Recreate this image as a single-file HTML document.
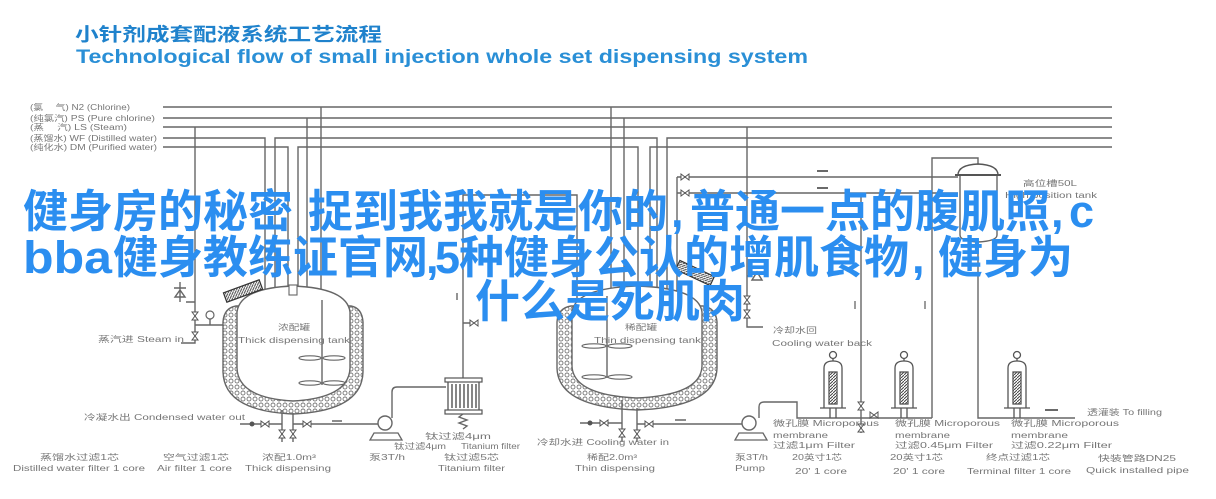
<!DOCTYPE html>
<html><head><meta charset="utf-8"><style>
html,body{margin:0;padding:0;background:#fff;}
svg{display:block;}
.l{stroke:#666;stroke-width:1.4;fill:none;}
.t{font-family:"Liberation Sans","Noto Sans CJK SC",sans-serif;fill:#767676;font-size:8px;}
.ov{font-family:"Liberation Sans","Noto Sans CJK SC",sans-serif;fill:#2b8ef0;font-size:45px;font-weight:700;}
</style></head><body>
<svg width="1216" height="499" viewBox="0 0 1216 499" xmlns="http://www.w3.org/2000/svg">
<defs>
<pattern id="jk" width="6" height="6" patternUnits="userSpaceOnUse"><rect width="6" height="6" fill="#fff"/><circle cx="3" cy="3" r="2" fill="none" stroke="#777" stroke-width="0.9"/></pattern>
<pattern id="hs" width="3" height="3" patternUnits="userSpaceOnUse"><rect width="3" height="3" fill="#fff"/><path d="M0 3L3 0" stroke="#444" stroke-width="1"/></pattern>
<g id="vh"><path d="M-4 -3L4 3V-3L-4 3Z" fill="#fff" stroke="#555" stroke-width="1"/></g>
<g id="vv"><path d="M-3 -4L3 4H-3L3 -4Z" fill="#fff" stroke="#555" stroke-width="1"/></g>
</defs>

<!-- Titles -->
<text x="75" y="41" font-family="'Liberation Sans','Noto Sans CJK SC',sans-serif" font-size="18.5" font-weight="700" fill="#1f82cc" textLength="307" lengthAdjust="spacingAndGlyphs">小针剂成套配液系统工艺流程</text>
<text x="76" y="63" font-family="'Liberation Sans',sans-serif" font-size="19" font-weight="700" fill="#2a8fd6" textLength="732" lengthAdjust="spacingAndGlyphs">Technological flow of small injection whole set dispensing system</text>

<!-- Legend -->
<text class="t" x="30" y="110" textLength="100" lengthAdjust="spacingAndGlyphs">(氯　 气) N2 (Chlorine)</text>
<text class="t" x="30" y="121" textLength="125" lengthAdjust="spacingAndGlyphs">(纯氯汽) PS  (Pure chlorine)</text>
<text class="t" x="30" y="130" textLength="97" lengthAdjust="spacingAndGlyphs">(蒸　 汽) LS  (Steam)</text>
<text class="t" x="30" y="141" textLength="127" lengthAdjust="spacingAndGlyphs">(蒸馏水) WF  (Distilled water)</text>
<text class="t" x="30" y="150" textLength="127" lengthAdjust="spacingAndGlyphs">(纯化水) DM  (Purified water)</text>

<!-- Header lines -->
<path class="l" d="M163 107H1112 M163 118H1112 M163 127H1112 M163 138H265V300 M275 298V138H657V292 M667 292V138H1112 M163 147H288V290 M298 290V147H638V287 M650 288V147H1112"/>

<!-- Left verticals -->
<path class="l" d="M195 127V343H181 M307 118V288 M321 107V292 M186 302H195"/>
<path class="l" d="M174 288H186 M180 282V302 M175 297L180 290L185 297Z"/>
<use href="#vv" x="195" y="316"/><use href="#vv" x="195" y="336"/>
<path class="l" d="M195 325H224 M210 319V325"/>
<circle cx="210" cy="315" r="4" fill="#fff" stroke="#666" stroke-width="1.2"/>

<!-- Left tank -->
<path d="M236 306Q224 308 223 322L223 372Q224 411 293 414Q362 411 363 372L363 322Q362 308 351 306Z" fill="url(#jk)" stroke="#666" stroke-width="1.4"/>
<path d="M237 312Q240 288 293 286Q347 288 350 312L350 368Q349 398 293 401Q238 398 237 368Z" fill="#fff" stroke="#666" stroke-width="1.4"/>
<path class="l" d="M322 300V385"/>
<g fill="none" stroke="#666" stroke-width="1.2">
<ellipse cx="310" cy="358" rx="11" ry="2.2"/><ellipse cx="334" cy="358" rx="11" ry="2.2"/>
<ellipse cx="310" cy="383" rx="11" ry="2.2"/><ellipse cx="334" cy="383" rx="11" ry="2.2"/>
</g>
<g transform="translate(243,291) rotate(-20)"><rect x="-19" y="-5" width="38" height="10" fill="url(#hs)" stroke="#333" stroke-width="1.2"/></g>
<rect x="289" y="285" width="8" height="10" fill="#fff" stroke="#666" stroke-width="1.1"/>
<text class="t" x="278" y="330" font-size="9" textLength="32" lengthAdjust="spacingAndGlyphs">浓配罐</text>
<text class="t" x="238" y="343" font-size="9" textLength="112" lengthAdjust="spacingAndGlyphs">Thick dispensing tank</text>
<text class="t" x="98" y="342" textLength="86" lengthAdjust="spacingAndGlyphs">蒸汽进 Steam in</text>

<!-- Left bottom -->
<path class="l" d="M240 424H282 M282 410V442 M293 413V442 M293 424H378 M332 421H342"/>
<circle cx="252" cy="424" r="2.5" fill="#555"/>
<use href="#vh" x="265" y="424"/>
<use href="#vv" x="282" y="434"/><use href="#vv" x="293" y="434"/>
<use href="#vh" x="307" y="424"/>
<text class="t" x="84" y="420" textLength="161" lengthAdjust="spacingAndGlyphs">冷凝水出 Condensed water out</text>
<path class="l" d="M392 418V392Q392 387 397 387H446"/>
<circle cx="385" cy="423" r="7" fill="#fff" stroke="#666" stroke-width="1.4"/>
<path d="M370 440H402L398 433H374Z" fill="#fff" stroke="#666" stroke-width="1.3"/>
<path class="l" d="M463 378V195H577V300"/>
<rect x="448" y="381" width="31" height="30" fill="#fff" stroke="#555" stroke-width="1.3"/>
<rect x="445" y="378" width="37" height="4" fill="#fff" stroke="#555" stroke-width="1.2"/>
<rect x="445" y="410" width="37" height="4" fill="#fff" stroke="#555" stroke-width="1.2"/>
<path d="M452 384V408M456 384V408M460 384V408M464 384V408M468 384V408M472 384V408M476 384V408" stroke="#444" stroke-width="1.3"/>
<path class="l" d="M463 414L459 417L467 420L459 423L467 426L463 429"/>
<path class="l" d="M457 293V300 M463 323H470"/>
<use href="#vh" x="474" y="323"/>
<text class="t" x="425" y="439" textLength="66" lengthAdjust="spacingAndGlyphs">钛过滤4μm</text>
<text class="t" x="394" y="449" textLength="52" lengthAdjust="spacingAndGlyphs">钛过滤4μm</text>
<text class="t" x="461" y="449" textLength="59" lengthAdjust="spacingAndGlyphs">Titanium filter</text>

<text class="t" x="40" y="460" textLength="79" lengthAdjust="spacingAndGlyphs">蒸馏水过滤1芯</text>
<text class="t" x="13" y="471" textLength="132" lengthAdjust="spacingAndGlyphs">Distilled water filter 1 core</text>
<text class="t" x="163" y="460" textLength="66" lengthAdjust="spacingAndGlyphs">空气过滤1芯</text>
<text class="t" x="157" y="471" textLength="75" lengthAdjust="spacingAndGlyphs">Air filter 1 core</text>
<text class="t" x="262" y="460" textLength="54" lengthAdjust="spacingAndGlyphs">浓配1.0m³</text>
<text class="t" x="245" y="471" textLength="86" lengthAdjust="spacingAndGlyphs">Thick dispensing</text>
<text class="t" x="369" y="460" textLength="36" lengthAdjust="spacingAndGlyphs">泵3T/h</text>
<text class="t" x="444" y="460" textLength="55" lengthAdjust="spacingAndGlyphs">钛过滤5芯</text>
<text class="t" x="438" y="471" textLength="67" lengthAdjust="spacingAndGlyphs">Titanium filter</text>

<!-- Middle verticals -->
<path class="l" d="M611 107V290 M624 118V288 M747 127V327H763 M677 177V295 M677 177H958 M677 193H958 M861 193V433 M932 418V158H978V165 M978 235V418H1075"/>
<use href="#vh" x="685" y="177"/><use href="#vh" x="685" y="193"/>
<path d="M817 171H828 M817 188H828 M1045 410H1058" stroke="#555" stroke-width="1.8"/>
<path d="M855 301V309 M925 301V309" stroke="#666" stroke-width="1.3"/>
<path class="l" d="M752 280L757 272L762 280Z M747 276H752"/>
<use href="#vv" x="747" y="300"/><use href="#vv" x="747" y="314"/>

<!-- Middle tank -->
<path d="M571 306Q558 308 557 322L557 368Q558 407 637 410Q716 407 717 368L717 322Q716 308 703 306Z" fill="url(#jk)" stroke="#666" stroke-width="1.4"/>
<path d="M572 312Q575 288 637 286Q699 288 702 312L702 366Q701 395 637 398Q573 395 572 366Z" fill="#fff" stroke="#666" stroke-width="1.4"/>
<path class="l" d="M607 296V378"/>
<g fill="none" stroke="#666" stroke-width="1.2">
<ellipse cx="594" cy="346" rx="12" ry="2.2"/><ellipse cx="620" cy="346" rx="12" ry="2.2"/>
<ellipse cx="594" cy="377" rx="12" ry="2.2"/><ellipse cx="620" cy="377" rx="12" ry="2.2"/>
</g>
<g transform="translate(695,273) rotate(25)"><rect x="-19" y="-5" width="38" height="10" fill="url(#hs)" stroke="#333" stroke-width="1.2"/></g>
<text class="t" x="625" y="330" font-size="9" textLength="32" lengthAdjust="spacingAndGlyphs">稀配罐</text>
<text class="t" x="594" y="343" font-size="9" textLength="107" lengthAdjust="spacingAndGlyphs">Thin dispensing tank</text>
<text class="t" x="773" y="333" textLength="44" lengthAdjust="spacingAndGlyphs">冷却水回</text>
<text class="t" x="772" y="346" textLength="100" lengthAdjust="spacingAndGlyphs">Cooling water back</text>

<path class="l" d="M580 423H622 M622 400V442 M637 408V442 M637 424H742 M675 420H686"/>
<circle cx="590" cy="423" r="2.5" fill="#555"/>
<use href="#vh" x="604" y="423"/>
<use href="#vv" x="622" y="433"/><use href="#vv" x="637" y="434"/>
<use href="#vh" x="649" y="424"/>
<text class="t" x="537" y="445" textLength="132" lengthAdjust="spacingAndGlyphs">冷却水进 Cooling water in</text>
<text class="t" x="587" y="460" textLength="50" lengthAdjust="spacingAndGlyphs">稀配2.0m³</text>
<text class="t" x="575" y="471" textLength="80" lengthAdjust="spacingAndGlyphs">Thin dispensing</text>
<path class="l" d="M759 418V407Q759 402 764 402H797V418H932"/>
<circle cx="749" cy="423" r="7" fill="#fff" stroke="#666" stroke-width="1.4"/>
<path d="M735 440H767L763 433H739Z" fill="#fff" stroke="#666" stroke-width="1.3"/>
<text class="t" x="735" y="460" textLength="33" lengthAdjust="spacingAndGlyphs">泵3T/h</text>
<text class="t" x="735" y="471" textLength="30" lengthAdjust="spacingAndGlyphs">Pump</text>
<use href="#vv" x="861" y="406"/><use href="#vv" x="861" y="428"/>
<use href="#vh" x="874" y="415"/>

<!-- Cartridge filters -->
<g stroke="#555" stroke-width="1.3">
<g transform="translate(833,0)">
<circle cx="0" cy="355" r="3.5" fill="#fff"/><path d="M0 358.5V361" fill="none"/>
<path d="M-9 408V368Q-9 361 0 361Q9 361 9 368V408" fill="#fff"/>
<rect x="-4" y="372" width="8" height="32" fill="url(#hs)"/>
<path d="M-13 408H13 M-3 408V418 M3 408V418" fill="none"/>
</g>
<g transform="translate(904,0)">
<circle cx="0" cy="355" r="3.5" fill="#fff"/><path d="M0 358.5V361" fill="none"/>
<path d="M-9 408V368Q-9 361 0 361Q9 361 9 368V408" fill="#fff"/>
<rect x="-4" y="372" width="8" height="32" fill="url(#hs)"/>
<path d="M-13 408H13 M-3 408V418 M3 408V418" fill="none"/>
</g>
<g transform="translate(1017,0)">
<circle cx="0" cy="355" r="3.5" fill="#fff"/><path d="M0 358.5V361" fill="none"/>
<path d="M-9 408V368Q-9 361 0 361Q9 361 9 368V408" fill="#fff"/>
<rect x="-4" y="372" width="8" height="32" fill="url(#hs)"/>
<path d="M-13 408H13 M-3 408V418 M3 408V418" fill="none"/>
</g>
</g>

<!-- High position tank -->
<path d="M960 175V235Q960 241 978 242Q997 241 997 235V175Z" fill="#fff" stroke="#666" stroke-width="1.4"/>
<path d="M958 175Q958 165 978 164Q998 165 998 175Z" fill="#fff" stroke="#555" stroke-width="1.4"/>
<path d="M955 175H1001" stroke="#555" stroke-width="2"/>
<text class="t" x="1023" y="186" textLength="54" lengthAdjust="spacingAndGlyphs">高位槽50L</text>
<text class="t" x="1005" y="198" textLength="92" lengthAdjust="spacingAndGlyphs">High position tank</text>

<text class="t" x="773" y="426" textLength="106" lengthAdjust="spacingAndGlyphs">微孔膜  Microporous</text>
<text class="t" x="773" y="438" textLength="55" lengthAdjust="spacingAndGlyphs">membrane</text>
<text class="t" x="773" y="448" textLength="82" lengthAdjust="spacingAndGlyphs">过滤1μm  Filter</text>
<text class="t" x="792" y="460" textLength="50" lengthAdjust="spacingAndGlyphs">20英寸1芯</text>
<text class="t" x="795" y="474" textLength="52" lengthAdjust="spacingAndGlyphs">20' 1 core</text>

<text class="t" x="895" y="426" textLength="105" lengthAdjust="spacingAndGlyphs">微孔膜  Microporous</text>
<text class="t" x="895" y="438" textLength="55" lengthAdjust="spacingAndGlyphs">membrane</text>
<text class="t" x="895" y="448" textLength="98" lengthAdjust="spacingAndGlyphs">过滤0.45μm  Filter</text>
<text class="t" x="890" y="460" textLength="53" lengthAdjust="spacingAndGlyphs">20英寸1芯</text>
<text class="t" x="893" y="474" textLength="52" lengthAdjust="spacingAndGlyphs">20' 1 core</text>

<text class="t" x="1011" y="426" textLength="108" lengthAdjust="spacingAndGlyphs">微孔膜  Microporous</text>
<text class="t" x="1011" y="438" textLength="57" lengthAdjust="spacingAndGlyphs">membrane</text>
<text class="t" x="1011" y="448" textLength="101" lengthAdjust="spacingAndGlyphs">过滤0.22μm  Filter</text>
<text class="t" x="986" y="460" textLength="64" lengthAdjust="spacingAndGlyphs">终点过滤1芯</text>
<text class="t" x="967" y="474" textLength="104" lengthAdjust="spacingAndGlyphs">Terminal filter 1 core</text>

<text class="t" x="1098" y="461" textLength="78" lengthAdjust="spacingAndGlyphs">快装管路DN25</text>
<text class="t" x="1086" y="473" textLength="103" lengthAdjust="spacingAndGlyphs">Quick installed pipe</text>
<text class="t" x="1087" y="415" textLength="75" lengthAdjust="spacingAndGlyphs">透灌装   To filling</text>

<!-- Overlay text -->
<text class="ov" y="227"><tspan x="23">健身房的秘密</tspan><tspan x="308">捉到我我就是你的</tspan><tspan x="671">,</tspan><tspan x="690">普通一点的腹肌照</tspan><tspan x="1051">,</tspan><tspan x="1069">c</tspan></text>
<text class="ov" x="23" y="273" textLength="89" lengthAdjust="spacingAndGlyphs">bba</text>
<text class="ov" y="273"><tspan x="113">健身教练证官网</tspan><tspan x="426">,</tspan><tspan x="435">5</tspan><tspan x="459">种健身公认的增肌食物</tspan><tspan x="912">,</tspan><tspan x="938">健身为</tspan></text>
<text class="ov" y="317"><tspan x="475">什么是死肌肉</tspan></text>
</svg>
</body></html>
